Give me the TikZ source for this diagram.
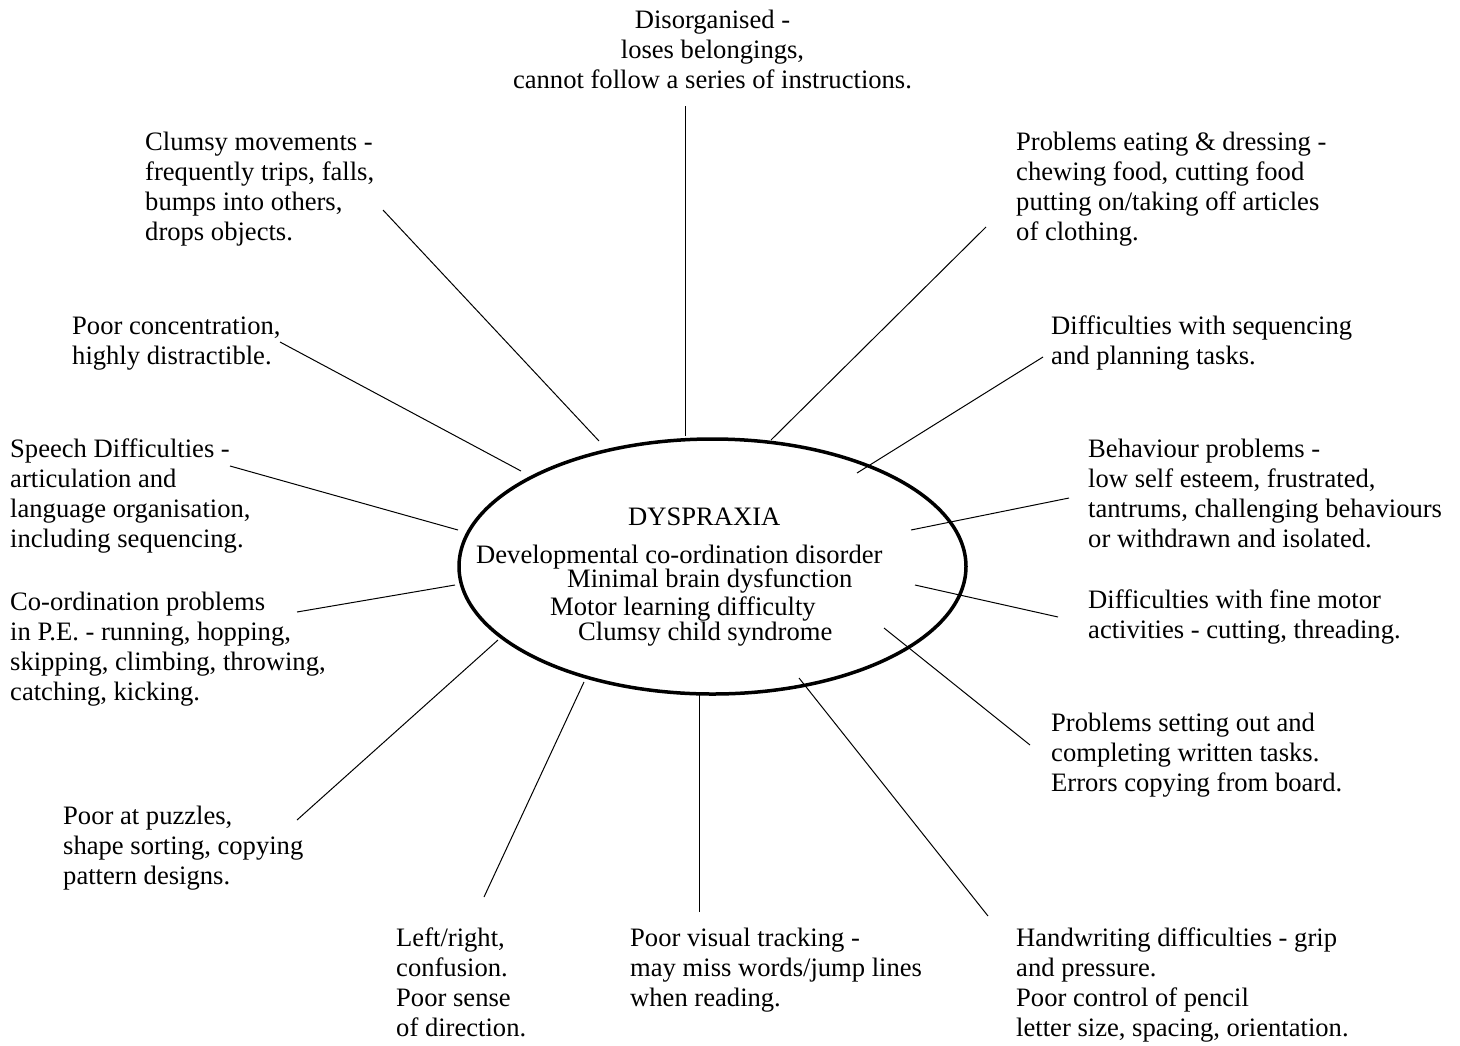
\documentclass[tikz,border=0pt]{standalone}
\usepackage{fontspec}
\setmainfont{Liberation Serif}
\usetikzlibrary{shapes.geometric}

\begin{document}
\begin{tikzpicture}[x=1pt, y=-1pt, font=\fontsize{26.6}{30}\selectfont,
  sym/.style={anchor=base west, align=left, inner sep=0pt},
  core/.style={anchor=base west, inner sep=0pt},
  ln/.style={line width=1pt}]
\useasboundingbox (0,0) rectangle (1460,1045);
% centre (symptom nodes sit on the baseline of their last line)
\node[ellipse, draw, line width=3.5pt, minimum width=507pt, minimum height=255pt, inner sep=0pt](dys) at (712.5,566.5) {};
\node[core](name) at (628,525) {DYSPRAXIA};
\node[core](dcd) at (476,563) {Developmental co-ordination disorder};
\node[core](mbd) at (567,587) {Minimal brain dysfunction};
\node[core](mld) at (550,615) {Motor learning difficulty};
\node[core](ccs) at (578,640) {Clumsy child syndrome};
% symptoms
\node[anchor=base, align=center, inner sep=0pt](disorg) at (712.5,88) {Disorganised -\\loses belongings,\\cannot follow a series of instructions.};
\node[sym](clumsy) at (145,240) {Clumsy movements -\\frequently trips, falls,\\bumps into others,\\drops objects.};
\node[sym](concen) at (72,364) {Poor concentration,\\highly distractible.};
\node[sym](speech) at (10,547) {Speech Difficulties -\\articulation and\\language organisation,\\including sequencing.};
\node[sym](coord) at (10,700) {Co-ordination problems\\in P.E. - running, hopping,\\skipping, climbing, throwing,\\catching, kicking.};
\node[sym](puzzle) at (63,884) {Poor at puzzles,\\shape sorting, copying\\pattern designs.};
\node[sym](lr) at (396,1036) {Left/right,\\confusion.\\Poor sense\\of direction.};
\node[sym](track) at (630,1006) {Poor visual tracking -\\may miss words/jump lines\\when reading.};
\node[sym](hand) at (1016,1036) {Handwriting difficulties - grip\\and pressure.\\Poor control of pencil\\letter size, spacing, orientation.};
\node[sym](written) at (1051,791) {Problems setting out and\\completing written tasks.\\Errors copying from board.};
\node[sym](fine) at (1088,638) {Difficulties with fine motor\\activities - cutting, threading.};
\node[sym](behav) at (1088,547) {Behaviour problems -\\low self esteem, frustrated,\\tantrums, challenging behaviours\\or withdrawn and isolated.};
\node[sym](seq) at (1051,364) {Difficulties with sequencing\\and planning tasks.};
\node[sym](eat) at (1016,240) {Problems eating \& dressing -\\chewing food, cutting food\\putting on/taking off articles\\of clothing.};
% line ends
\coordinate (disorg-a) at (685.5,106); \coordinate (disorg-b) at (685.5,436);
\coordinate (clumsy-a) at (383,210);  \coordinate (clumsy-b) at (599,441);
\coordinate (concen-a) at (280,342);  \coordinate (concen-b) at (521,471);
\coordinate (speech-a) at (230,466);  \coordinate (speech-b) at (458,530);
\coordinate (coord-a) at (297,612);   \coordinate (coord-b) at (455,585);
\coordinate (puzzle-a) at (297,820);  \coordinate (puzzle-b) at (498,640);
\coordinate (lr-a) at (484,897);      \coordinate (lr-b) at (584,682);
\coordinate (track-a) at (699.5,912); \coordinate (track-b) at (699.5,695);
\coordinate (hand-a) at (988,916);    \coordinate (hand-b) at (799,678);
\coordinate (written-a) at (1030,745); \coordinate (written-b) at (884,628);
\coordinate (fine-a) at (1058,617);   \coordinate (fine-b) at (915,585);
\coordinate (behav-a) at (1069,498);  \coordinate (behav-b) at (911,530);
\coordinate (seq-a) at (1043,357);    \coordinate (seq-b) at (857,473);
\coordinate (eat-a) at (986,227);     \coordinate (eat-b) at (771,440);
\foreach \s in {disorg,clumsy,concen,speech,coord,puzzle,lr,track,hand,written,fine,behav,seq,eat}
  \draw[ln] (\s-a) -- (\s-b);
\end{tikzpicture}
\end{document}
